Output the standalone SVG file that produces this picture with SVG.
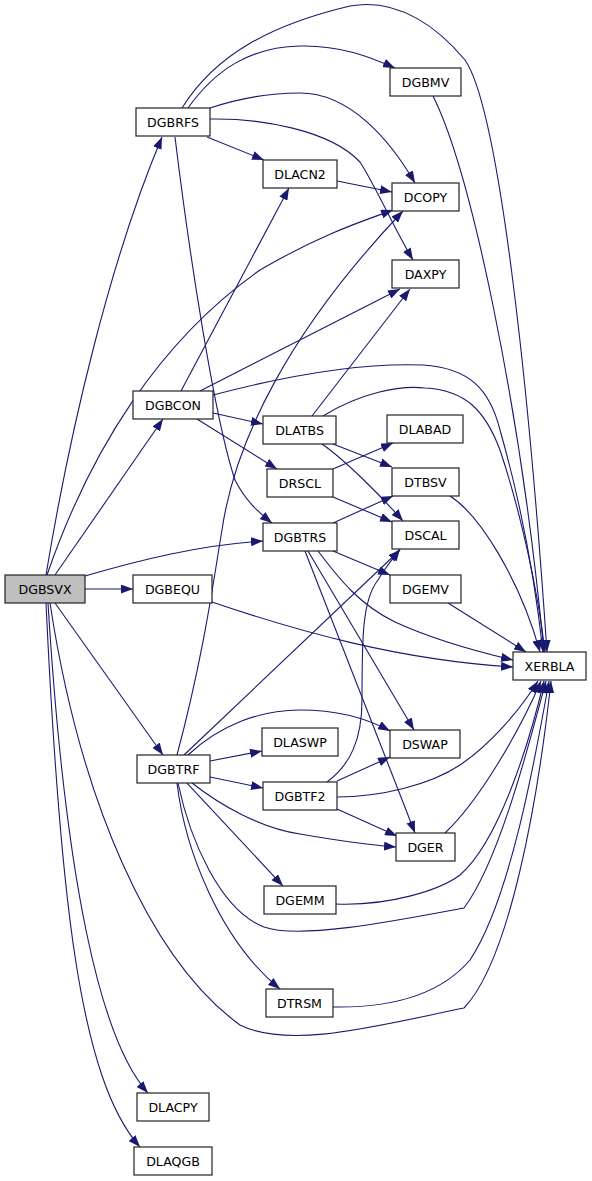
<svg xmlns="http://www.w3.org/2000/svg" width="592" height="1181" viewBox="0 0 592 1181">
<style>
.n rect{fill:#fff;stroke:#222;stroke-width:1.2}
.n text{font-family:"DejaVu Sans",sans-serif;font-size:12.6px;fill:#000;text-anchor:middle}
.e path{fill:none;stroke:#191970;stroke-width:1.1;marker-end:url(#a)}
</style>
<defs>
<marker id="a" markerWidth="12" markerHeight="9" refX="12" refY="4.5" orient="auto" markerUnits="userSpaceOnUse"><path d="M0,0 L12,4.5 L0,9 z" fill="#191970"/></marker>
</defs>
<rect width="592" height="1181" fill="#fff"/>
<g class="e" id="edges">
<path d="M46,575 C70,430 110,260 162,137"/>
<path d="M47,575 C90,450 160,340 260,270 C320,235 360,222 393,210"/>
<path d="M55,575 L163,419"/>
<path d="M85,576 C140,560 200,545 263,541"/>
<path d="M85,589 L133,589"/>
<path d="M55,603 L163,755"/>
<path d="M48,603 C65,880 100,1040 148,1093"/>
<path d="M46,603 C60,900 80,1080 140,1147"/>
<path d="M50,603 C80,800 150,960 240,1025 C290,1050 380,1025 464,1008 C510,960 538,800 551,681"/>
<path d="M182,108 C215,55 270,25 350,6 C400,-3 440,30 465,60 C500,110 530,400 547,652"/>
<path d="M188,108 C215,70 250,47 300,46 C340,45 370,57 395,68"/>
<path d="M210,108 C240,98 270,93 300,93 C350,93 390,140 415,183"/>
<path d="M210,119 C260,118 330,130 360,162 C375,185 395,230 413,260"/>
<path d="M207,137 L264,160"/>
<path d="M175,137 C190,260 215,420 235,480 C245,500 258,512 272,523"/>
<path d="M433,96 C470,170 520,400 544,652"/>
<path d="M337,181 L392,192"/>
<path d="M181,391 L289,188"/>
<path d="M200,391 L400,289"/>
<path d="M213,395 C270,380 350,362 423,365 C470,368 490,390 500,430 C520,500 535,580 543,652"/>
<path d="M213,413 L263,424"/>
<path d="M197,419 L277,469"/>
<path d="M312,416 L410,289"/>
<path d="M323,416 C360,393 400,385 425,388 C465,390 485,410 500,450 C520,510 538,590 545,652"/>
<path d="M333,444 L392,467"/>
<path d="M322,444 C345,460 380,495 403,521"/>
<path d="M333,469 L393,443"/>
<path d="M333,497 L392,522"/>
<path d="M333,523 L393,496"/>
<path d="M333,551 L390,575"/>
<path d="M318,551 C340,580 360,605 395,622 C430,638 470,650 513,660"/>
<path d="M212,602 C300,632 400,660 513,667"/>
<path d="M308,551 L414,730"/>
<path d="M305,551 L415,833"/>
<path d="M450,496 C480,515 520,580 540,652"/>
<path d="M448,603 L526,652"/>
<path d="M177,755 C205,650 215,570 222,530 C235,440 290,330 403,211"/>
<path d="M184,755 L400,550"/>
<path d="M188,755 C220,725 260,710 300,710 C340,710 370,720 390,731"/>
<path d="M210,761 L262,751"/>
<path d="M210,777 L263,788"/>
<path d="M192,783 C220,805 260,828 300,834 C340,841 370,845 396,847"/>
<path d="M187,783 L283,886"/>
<path d="M178,783 C190,840 220,910 264,927 C300,940 400,920 464,908 C500,860 530,740 546,681"/>
<path d="M177,783 C185,850 220,940 280,989"/>
<path d="M327,782 C350,765 362,740 362,700 C362,640 362,600 378,580 C385,568 392,560 400,549"/>
<path d="M337,781 L390,757"/>
<path d="M337,797 C380,797 430,785 460,765 C490,745 520,710 538,681"/>
<path d="M337,809 L397,836"/>
<path d="M445,833 C480,800 520,730 541,681"/>
<path d="M336,904 C390,906 440,890 460,875 C500,840 530,740 544,681"/>
<path d="M333,1007 C390,1008 440,995 470,960 C510,900 535,760 549,681"/>
</g>
<g class="n" id="DGBSVX"><rect x="5" y="575" width="80" height="28" style="fill:#bfbfbf"/><text x="45" y="593.5">DGBSVX</text></g>
<g class="n" id="DGBEQU"><rect x="133" y="575" width="79" height="28"/><text x="172.5" y="593.5">DGBEQU</text></g>
<g class="n" id="DGBCON"><rect x="133" y="391" width="80" height="28"/><text x="173" y="409.5">DGBCON</text></g>
<g class="n" id="DGBRFS"><rect x="136" y="108" width="74" height="28"/><text x="173" y="126.5">DGBRFS</text></g>
<g class="n" id="DLACN2"><rect x="263" y="160" width="74" height="28"/><text x="300" y="178.5">DLACN2</text></g>
<g class="n" id="DGBMV"><rect x="390" y="68" width="71" height="28"/><text x="425.5" y="86.5">DGBMV</text></g>
<g class="n" id="DCOPY"><rect x="392" y="183" width="67" height="28"/><text x="425.5" y="201.5">DCOPY</text></g>
<g class="n" id="DAXPY"><rect x="392" y="260" width="67" height="28"/><text x="425.5" y="278.5">DAXPY</text></g>
<g class="n" id="DLATBS"><rect x="263" y="416" width="73" height="28"/><text x="299.5" y="434.5">DLATBS</text></g>
<g class="n" id="DLABAD"><rect x="387" y="415" width="76" height="28"/><text x="425" y="433.5">DLABAD</text></g>
<g class="n" id="DRSCL"><rect x="267" y="469" width="66" height="28"/><text x="300" y="487.5">DRSCL</text></g>
<g class="n" id="DTBSV"><rect x="392" y="468" width="67" height="28"/><text x="425.5" y="486.5">DTBSV</text></g>
<g class="n" id="DGBTRS"><rect x="263" y="523" width="74" height="28"/><text x="300" y="541.5">DGBTRS</text></g>
<g class="n" id="DSCAL"><rect x="392" y="521" width="67" height="28"/><text x="425.5" y="539.5">DSCAL</text></g>
<g class="n" id="DGEMV"><rect x="390" y="575" width="71" height="28"/><text x="425.5" y="593.5">DGEMV</text></g>
<g class="n" id="XERBLA"><rect x="513" y="652" width="73" height="28"/><text x="549.5" y="670.5">XERBLA</text></g>
<g class="n" id="DGBTRF"><rect x="137" y="755" width="73" height="28"/><text x="173.5" y="773.5">DGBTRF</text></g>
<g class="n" id="DLASWP"><rect x="262" y="728" width="76" height="28"/><text x="300" y="746.5">DLASWP</text></g>
<g class="n" id="DSWAP"><rect x="390" y="730" width="70" height="28"/><text x="425" y="748.5">DSWAP</text></g>
<g class="n" id="DGBTF2"><rect x="263" y="782" width="74" height="28"/><text x="300" y="800.5">DGBTF2</text></g>
<g class="n" id="DGER"><rect x="396" y="833" width="59" height="28"/><text x="425.5" y="851.5">DGER</text></g>
<g class="n" id="DGEMM"><rect x="264" y="886" width="72" height="28"/><text x="300" y="904.5">DGEMM</text></g>
<g class="n" id="DTRSM"><rect x="266" y="989" width="67" height="28"/><text x="299.5" y="1007.5">DTRSM</text></g>
<g class="n" id="DLACPY"><rect x="137" y="1093" width="72" height="28"/><text x="173" y="1111.5">DLACPY</text></g>
<g class="n" id="DLAQGB"><rect x="134" y="1147" width="78" height="28"/><text x="173" y="1165.5">DLAQGB</text></g>
</svg>
